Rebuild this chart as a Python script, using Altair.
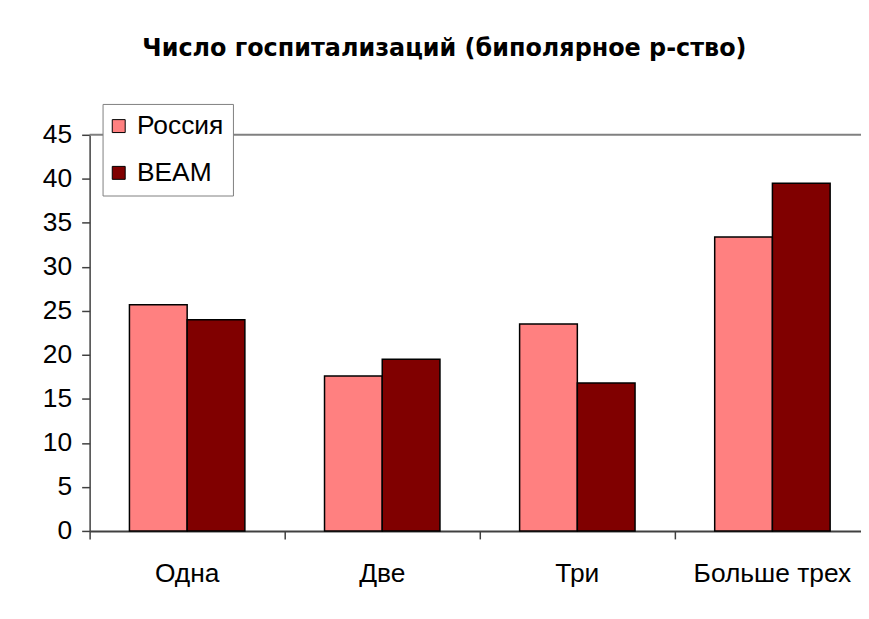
import altair as alt
import pandas as pd

categories = ["Одна", "Две", "Три", "Больше трех"]
series = ["Россия", "ВЕАМ"]
russia = [25.7, 17.6, 23.5, 33.4]
beam = [24.0, 19.5, 16.8, 39.5]
y_ticks = [0, 5, 10, 15, 20, 25, 30, 35, 40, 45]
y_max = 45
colors = ["#FF8080", "#800000"]
chart_title = "Число госпитализаций (биполярное р-ство)"

rows = []
for i, c in enumerate(categories):
    rows.append({"cat": c, "series": series[0], "value": russia[i]})
    rows.append({"cat": c, "series": series[1], "value": beam[i]})
df = pd.DataFrame(rows)

axis_color = "#404040"
label_font = "Liberation Sans"
fs = 26.5

bars = alt.Chart(df).mark_bar(stroke="black", strokeWidth=1.5).encode(
    x=alt.X(
        "cat:N",
        sort=categories,
        scale=alt.Scale(paddingInner=0, paddingOuter=0, range=[0, 784]),
        axis=alt.Axis(
            title=None, labelAngle=0, bandPosition=0,
            domainColor=axis_color, domainWidth=2,
            tickColor=axis_color, tickSize=8, tickWidth=1.5,
            labelFontSize=fs, labelFont=label_font, labelColor="black",
            labelPadding=22,
        ),
    ),
    xOffset=alt.XOffset(
        "series:N", sort=series,
        scale=alt.Scale(paddingInner=0, paddingOuter=0.69),
    ),
    y=alt.Y(
        "value:Q",
        scale=alt.Scale(domain=[0, y_max], nice=False),
        axis=alt.Axis(
            values=y_ticks, title=None, grid=False,
            domainColor=axis_color, domainWidth=1.5,
            tickColor=axis_color, tickSize=8, tickWidth=1.5,
            labelFontSize=fs, labelFont=label_font, labelColor="black",
            labelPadding=10,
        ),
    ),
    color=alt.Color(
        "series:N", sort=series,
        scale=alt.Scale(domain=series, range=colors),
        legend=alt.Legend(
            title=None, orient="none", legendX=13, legendY=-31,
            fillColor="white", strokeColor="#808080", padding=9,
            symbolType="square", symbolSize=169, symbolOffset=-6,
            symbolStrokeColor="black", symbolStrokeWidth=1,
            labelFontSize=fs, labelFont=label_font, labelColor="black",
            rowPadding=20, labelOffset=5,
        ),
    ),
)

top_rule = alt.Chart(pd.DataFrame({"v": [y_max]})).mark_rule(
    color="#808080", strokeWidth=2
).encode(y="v:Q")

chart = alt.layer(top_rule, bars).properties(
    width=775,
    height=398,
    autosize=alt.AutoSizeParams(type="none"),
    padding={"left": 82, "top": 126, "right": 0, "bottom": 70},
    title=alt.TitleParams(
        chart_title, anchor="middle", dx=-31, offset=43,
        fontSize=24, font="DejaVu Sans", fontWeight="bold", color="black",
    ),
).configure_view(stroke=None)

chart.save("out.html", embed_options={"renderer": "svg", "actions": False})
